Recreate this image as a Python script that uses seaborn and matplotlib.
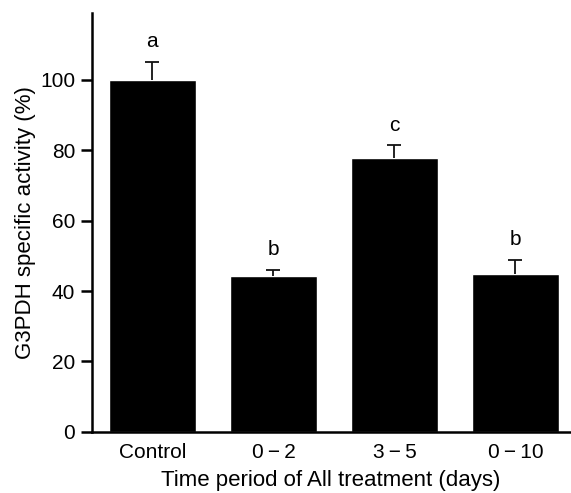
import numpy as np
import pandas as pd
import matplotlib.pyplot as plt
import seaborn as sns

sns.set_style("ticks")
plt.rcParams['font.family'] = ['Liberation Sans', 'DejaVu Sans']
plt.rcParams['text.color'] = 'black'
plt.rcParams['axes.labelcolor'] = 'black'
plt.rcParams['xtick.color'] = 'black'
plt.rcParams['ytick.color'] = 'black'
plt.rcParams['axes.edgecolor'] = 'black'

# data
periods = ['Control', '0\u2009\u2212\u20092', '3\u2009\u2212\u20095', '0\u2009\u2212\u200910']
activity = [100.0, 44.4, 77.9, 44.9]
sem = [5.1, 1.6, 3.5, 4.0]
letters = ['a', 'b', 'c', 'b']

df = pd.DataFrame({'period': periods, 'activity': activity})

fig = plt.figure(figsize=(5.71, 4.93), dpi=100)
ax = fig.add_axes([0.161, 0.124, 0.837, 0.85])

sns.barplot(data=df, x='period', y='activity', color='black', width=0.72,
            saturation=1, errorbar=None, ax=ax)

# one sided error bars
eb = ax.errorbar(np.arange(len(periods)), activity, yerr=[np.zeros(len(sem)), sem],
                 fmt='none', ecolor='#111111', elinewidth=1.3, capsize=5, capthick=1.3)
eb[1][0].set_visible(False)

for i, (v, e, l) in enumerate(zip(activity, sem, letters)):
    ax.text(i, v + e + 3, l, ha='center', va='bottom', fontsize=15)

ax.set_xlim(-0.5, 3.45)
ax.set_ylim(0, 119)
ax.set_yticks([0, 20, 40, 60, 80, 100])
ax.set_xlabel('Time period of All treatment (days)', fontsize=16, labelpad=6)
ax.set_ylabel('G3PDH specific activity (%)', fontsize=16, labelpad=3)
ax.tick_params(axis='y', labelsize=15, length=8, width=1.8, pad=4)
ax.tick_params(axis='x', labelsize=15, length=0, pad=8)
sns.despine(ax=ax)
for s in ['left', 'bottom']:
    ax.spines[s].set_linewidth(1.8)

fig.savefig('out.png', dpi=100)
